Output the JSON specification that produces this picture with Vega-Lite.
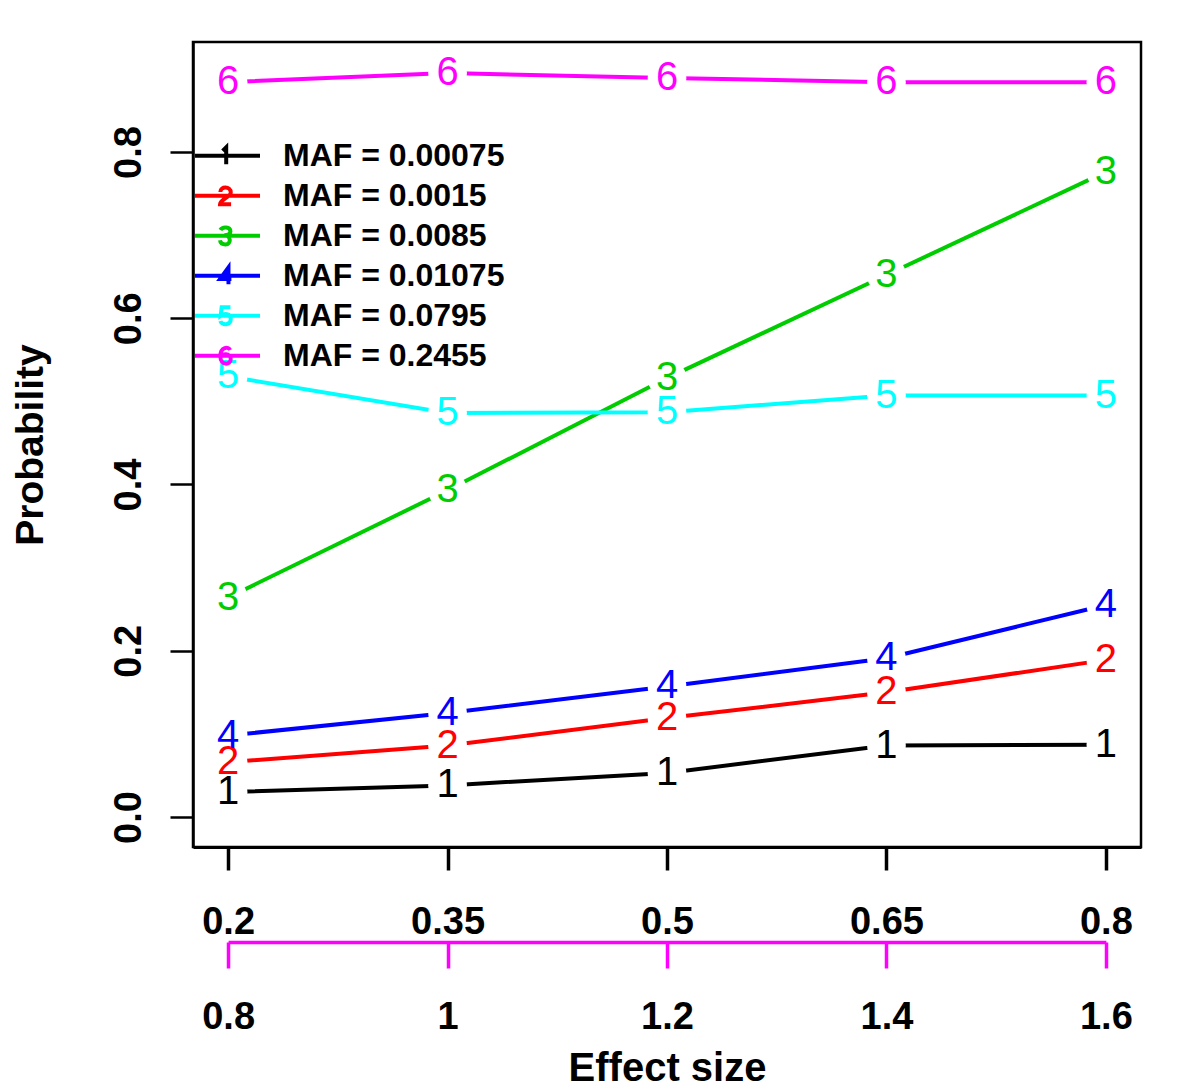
{
  "$schema": "https://vega.github.io/schema/vega-lite/v6.json",
  "width": 948,
  "height": 805,
  "autosize": {"type": "none"},
  "padding": {"left": 193, "top": 42, "right": 59, "bottom": 241},
  "background": "white",
  "data": {
    "values": [
      {"series": "MAF = 0.00075", "id": "1", "x": 0.2, "effect": 0.8, "p": 0.030},
      {"series": "MAF = 0.00075", "id": "1", "x": 0.35, "effect": 1.0, "p": 0.038},
      {"series": "MAF = 0.00075", "id": "1", "x": 0.5, "effect": 1.2, "p": 0.053},
      {"series": "MAF = 0.00075", "id": "1", "x": 0.65, "effect": 1.4, "p": 0.086},
      {"series": "MAF = 0.00075", "id": "1", "x": 0.8, "effect": 1.6, "p": 0.087},
      {"series": "MAF = 0.0015", "id": "2", "x": 0.2, "effect": 0.8, "p": 0.066},
      {"series": "MAF = 0.0015", "id": "2", "x": 0.35, "effect": 1.0, "p": 0.086},
      {"series": "MAF = 0.0015", "id": "2", "x": 0.5, "effect": 1.2, "p": 0.119},
      {"series": "MAF = 0.0015", "id": "2", "x": 0.65, "effect": 1.4, "p": 0.150},
      {"series": "MAF = 0.0015", "id": "2", "x": 0.8, "effect": 1.6, "p": 0.189},
      {"series": "MAF = 0.0085", "id": "3", "x": 0.2, "effect": 0.8, "p": 0.264},
      {"series": "MAF = 0.0085", "id": "3", "x": 0.35, "effect": 1.0, "p": 0.393},
      {"series": "MAF = 0.0085", "id": "3", "x": 0.5, "effect": 1.2, "p": 0.528},
      {"series": "MAF = 0.0085", "id": "3", "x": 0.65, "effect": 1.4, "p": 0.652},
      {"series": "MAF = 0.0085", "id": "3", "x": 0.8, "effect": 1.6, "p": 0.776},
      {"series": "MAF = 0.01075", "id": "4", "x": 0.2, "effect": 0.8, "p": 0.098},
      {"series": "MAF = 0.01075", "id": "4", "x": 0.35, "effect": 1.0, "p": 0.125},
      {"series": "MAF = 0.01075", "id": "4", "x": 0.5, "effect": 1.2, "p": 0.157},
      {"series": "MAF = 0.01075", "id": "4", "x": 0.65, "effect": 1.4, "p": 0.191},
      {"series": "MAF = 0.01075", "id": "4", "x": 0.8, "effect": 1.6, "p": 0.255},
      {"series": "MAF = 0.0795", "id": "5", "x": 0.2, "effect": 0.8, "p": 0.530},
      {"series": "MAF = 0.0795", "id": "5", "x": 0.35, "effect": 1.0, "p": 0.486},
      {"series": "MAF = 0.0795", "id": "5", "x": 0.5, "effect": 1.2, "p": 0.487},
      {"series": "MAF = 0.0795", "id": "5", "x": 0.65, "effect": 1.4, "p": 0.507},
      {"series": "MAF = 0.0795", "id": "5", "x": 0.8, "effect": 1.6, "p": 0.507},
      {"series": "MAF = 0.2455", "id": "6", "x": 0.2, "effect": 0.8, "p": 0.884},
      {"series": "MAF = 0.2455", "id": "6", "x": 0.35, "effect": 1.0, "p": 0.895},
      {"series": "MAF = 0.2455", "id": "6", "x": 0.5, "effect": 1.2, "p": 0.889},
      {"series": "MAF = 0.2455", "id": "6", "x": 0.65, "effect": 1.4, "p": 0.884},
      {"series": "MAF = 0.2455", "id": "6", "x": 0.8, "effect": 1.6, "p": 0.884}
    ]
  },
  "encoding": {
    "y": {
      "field": "p",
      "type": "quantitative",
      "scale": {"domain": [-0.0361, 0.9323], "nice": false, "zero": false},
      "axis": {
        "values": [0, 0.2, 0.4, 0.6, 0.8],
        "format": ".1f",
        "grid": false,
        "domain": true,
        "domainColor": "black",
        "domainWidth": 2.5,
        "tickColor": "black",
        "tickWidth": 2.5,
        "tickSize": 23,
        "labelAngle": 270,
        "labelAlign": "center",
        "labelBaseline": "alphabetic",
        "labelPadding": 30,
        "labelFont": "Liberation Sans",
        "labelFontSize": 38,
        "labelFontWeight": "bold",
        "labelColor": "black",
        "labelFlush": false,
        "labelOverlap": false,
        "title": "Probability",
        "titleFont": "Liberation Sans",
        "titleFontSize": 39,
        "titleFontWeight": "bold",
        "titleColor": "black",
        "titleAngle": 270,
        "titleAlign": "center",
        "titleBaseline": "alphabetic",
        "titleX": -151,
        "titleY": 402.5
      }
    }
  },
  "layer": [
    {
      "encoding": {
        "x": {
          "field": "x",
          "type": "quantitative",
          "scale": {"domain": [0.176, 0.824], "nice": false, "zero": false},
          "axis": {
            "orient": "bottom",
            "offset": 0,
            "values": [0.2, 0.35, 0.5, 0.65, 0.8],
            "format": ".2~f",
            "grid": false,
            "domain": true,
            "domainColor": "black",
            "domainWidth": 3,
            "tickColor": "black",
            "tickWidth": 3.5,
            "tickSize": 23,
            "labelBaseline": "alphabetic",
            "labelPadding": 63,
            "labelFont": "Liberation Sans",
            "labelFontSize": 38,
            "labelFontWeight": "bold",
            "labelColor": "black",
            "labelFlush": false,
            "labelOverlap": false,
            "title": null
          }
        }
      },
      "layer": [
        {
          "mark": {"type": "line", "strokeWidth": 4},
          "encoding": {
            "color": {
              "field": "id",
              "type": "nominal",
              "scale": {
                "domain": ["1", "2", "3", "4", "5", "6"],
                "range": ["#000000", "#FF0000", "#00CD00", "#0000FF", "#00FFFF", "#FF00FF"]
              },
              "legend": null
            },
            "detail": {"field": "id"}
          }
        },
        {
          "mark": {"type": "point", "filled": true, "color": "white", "size": 1500, "opacity": 1, "strokeWidth": 0},
          "encoding": {"detail": {"field": "id"}}
        },
        {
          "mark": {"type": "point", "filled": false, "opacity": 0},
          "encoding": {
            "stroke": {
              "field": "series",
              "type": "nominal",
              "scale": {
                "domain": ["MAF = 0.00075", "MAF = 0.0015", "MAF = 0.0085", "MAF = 0.01075", "MAF = 0.0795", "MAF = 0.2455"],
                "range": ["#000000", "#FF0000", "#00CD00", "#0000FF", "#00FFFF", "#FF00FF"]
              },
              "legend": {
                "title": null,
                "orient": "none",
                "direction": "vertical",
                "legendX": 0,
                "legendY": 94,
                "padding": 0,
                "symbolSize": 4225,
                "symbolStrokeWidth": 4,
                "symbolFillColor": "transparent",
                "symbolOpacity": 1,
                "symbolOffset": 0,
                "labelFont": "Liberation Sans",
                "labelFontSize": 32,
                "labelFontWeight": "bold",
                "labelColor": "black",
                "labelOffset": 21,
                "labelLimit": 500,
                "clipHeight": 39.6,
                "rowPadding": 0
              }
            },
            "shape": {
              "field": "series",
              "type": "nominal",
              "scale": {
                "domain": ["MAF = 0.00075", "MAF = 0.0015", "MAF = 0.0085", "MAF = 0.01075", "MAF = 0.0795", "MAF = 0.2455"],
                "range": [
                  "M-1,0L1,0M-0.15,-0.15L-0.04,-0.26L-0.04,0.26",
                  "M-1,0L1,0M-0.22,-0.12C-0.22,-0.3,0.1,-0.3,0.1,-0.1C0.1,0.04,-0.22,0.1,-0.23,0.26L0.11,0.26",
                  "M-1,0L1,0M-0.22,-0.18C-0.16,-0.29,0.09,-0.29,0.09,-0.14C0.09,-0.03,-0.02,-0.02,-0.1,-0.02C0.12,-0.02,0.12,0.27,-0.06,0.27C-0.16,0.27,-0.22,0.22,-0.23,0.14",
                  "M-1,0L1,0M0.03,0.26L0.03,-0.26L-0.23,0.1L0.12,0.1",
                  "M-1,0L1,0M0.09,-0.26L-0.18,-0.26L-0.21,0C-0.1,-0.08,0.1,-0.08,0.1,0.1C0.1,0.3,-0.18,0.3,-0.22,0.16",
                  "M-1,0L1,0M0.08,-0.18C0.04,-0.28,-0.22,-0.3,-0.22,0.02C-0.22,0.3,0.1,0.3,0.1,0.1C0.1,-0.08,-0.18,-0.1,-0.22,0.06"
                ]
              },
              "legend": {
                "title": null,
                "orient": "none",
                "direction": "vertical",
                "legendX": 0,
                "legendY": 94,
                "padding": 0,
                "symbolSize": 4225,
                "symbolStrokeWidth": 4,
                "symbolFillColor": "transparent",
                "symbolOpacity": 1,
                "symbolOffset": 0,
                "labelFont": "Liberation Sans",
                "labelFontSize": 32,
                "labelFontWeight": "bold",
                "labelColor": "black",
                "labelOffset": 21,
                "labelLimit": 500,
                "clipHeight": 39.6,
                "rowPadding": 0
              }
            }
          }
        }
      ]
    },
    {
      "mark": {"type": "text", "font": "Liberation Sans", "fontSize": 40, "align": "center", "baseline": "middle"},
      "encoding": {
        "x": {
          "field": "effect",
          "type": "quantitative",
          "scale": {"domain": [0.8, 1.6], "range": [35.11, 912.89], "nice": false, "zero": false},
          "axis": {
            "orient": "bottom",
            "offset": 95,
            "values": [0.8, 1.0, 1.2, 1.4, 1.6],
            "format": ".1~f",
            "grid": false,
            "domain": true,
            "domainColor": "#FF00FF",
            "domainWidth": 3.5,
            "tickColor": "#FF00FF",
            "tickWidth": 3.5,
            "tickSize": 26,
            "labelBaseline": "alphabetic",
            "labelPadding": 60,
            "labelFont": "Liberation Sans",
            "labelFontSize": 38,
            "labelFontWeight": "bold",
            "labelColor": "black",
            "labelFlush": false,
            "labelOverlap": false,
            "title": "Effect size",
            "titleFont": "Liberation Sans",
            "titleFontSize": 40,
            "titleFontWeight": "bold",
            "titleColor": "black",
            "titleAlign": "center",
            "titleBaseline": "alphabetic",
            "titleX": 474,
            "titleY": 138
          }
        },
        "text": {"field": "id", "type": "nominal"},
        "color": {
          "field": "id",
          "type": "nominal",
          "scale": {
            "domain": ["1", "2", "3", "4", "5", "6"],
            "range": ["#000000", "#FF0000", "#00CD00", "#0000FF", "#00FFFF", "#FF00FF"]
          },
          "legend": null
        }
      }
    }
  ],
  "resolve": {
    "scale": {"x": "independent"},
    "axis": {"x": "independent"}
  },
  "config": {
    "font": "Liberation Sans",
    "view": {"stroke": "#000000", "strokeWidth": 2.5},
    "axis": {"grid": false}
  }
}
